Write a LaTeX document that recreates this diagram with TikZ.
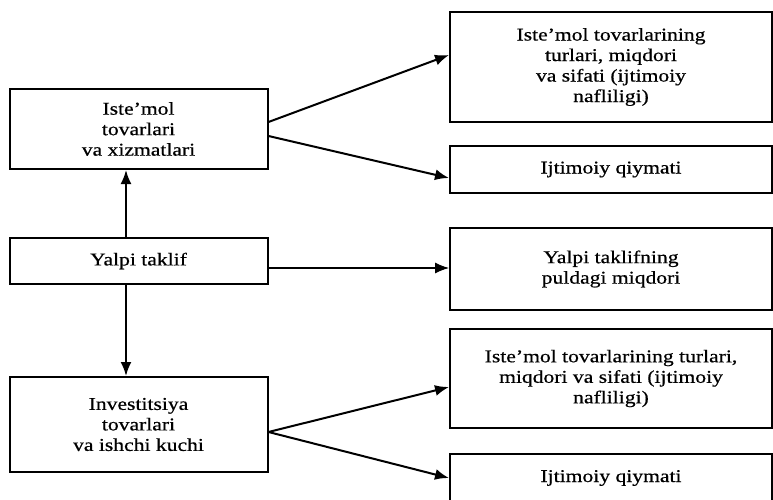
\documentclass[tikz,border=0pt]{standalone}
\usepackage{fontspec}
\setmainfont{Liberation Serif}[FakeStretch=1.2,FakeBold=0.6]
\usetikzlibrary{arrows.meta}
\begin{document}
\begin{tikzpicture}[x=1pt,y=-1pt,
  box/.style={draw, line width=2pt, align=center, inner sep=0pt,
    font=\fontsize{18}{20.5}\selectfont},
  lbox/.style={box, minimum width=258pt},
  rbox/.style={box, minimum width=322pt},
  arr/.style={line width=2pt, -{Latex[length=14pt,width=11pt]}},
  thinarr/.style={line width=1.1pt, -{Latex[length=14pt,width=11pt]}}
]
\useasboundingbox (0,0) rectangle (773,500);
\fill[white] (0,0) rectangle (773,500);
% left boxes
\node[lbox, minimum height=80pt] (L1) at (138.5,129) {Iste'mol\\tovarlari\\va xizmatlari};
\node[lbox, minimum height=46pt] (L2) at (138.5,261) {Yalpi taklif};
\node[lbox, minimum height=95pt] (L3) at (138.5,424.5) {Investitsiya\\tovarlari\\va ishchi kuchi};
% right boxes
\node[rbox, minimum height=110pt] (R1) at (611,67) {Iste'mol tovarlarining\\turlari, miqdori\\va sifati (ijtimoiy\\nafliligi)};
\node[rbox, minimum height=47pt] (R2) at (611,169.5) {Ijtimoiy qiymati};
\node[rbox, minimum height=82pt] (R3) at (611,269) {Yalpi taklifning\\puldagi miqdori};
\node[rbox, minimum height=99pt] (R4) at (611,378.5) {Iste'mol tovarlarining turlari,\\miqdori va sifati (ijtimoiy\\nafliligi)};
\node[rbox, minimum height=48pt] (R5) at (611,478) {Ijtimoiy qiymati};
% connectors
\draw[arr] ([yshift=7pt]L1.east) -- ([yshift=12pt]R1.west);
\draw[arr] ([yshift=-7pt]L1.east) -- ([yshift=-8.5pt]R2.west);
\draw[thinarr] ([yshift=-7pt]L2.east) -- ([yshift=-7pt]L2.east -| R3.west);
\draw[arr] ([yshift=-7.5pt]L3.east) -- ([yshift=-8.5pt]R4.west);
\draw[arr] ([yshift=-7.5pt]L3.east) -- (R5.west);
\draw[arr] ([xshift=-12.5pt]L2.north) -- ([xshift=-12.5pt]L1.south);
\draw[arr] ([xshift=-12.5pt]L2.south) -- ([xshift=-12.5pt]L3.north);
\end{tikzpicture}
\end{document}
